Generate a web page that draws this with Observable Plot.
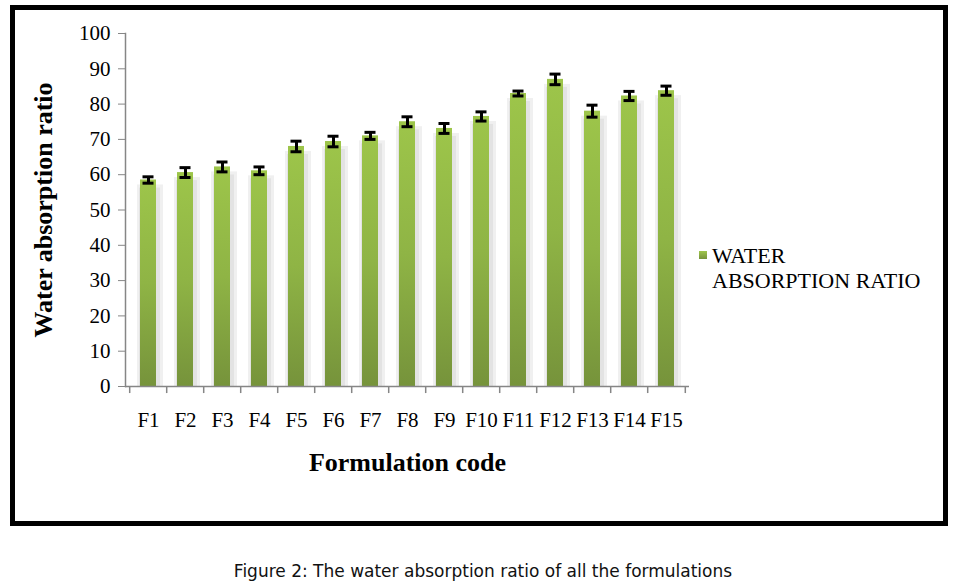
<!DOCTYPE html>
<html>
<head>
<meta charset="utf-8">
<script src="https://cdn.jsdelivr.net/npm/d3@7"></script>
<script src="https://cdn.jsdelivr.net/npm/@observablehq/plot@0.6"></script>
<style>
  html, body { margin: 0; padding: 0; background: #fff; }
  #wrap { position: relative; width: 966px; height: 588px; overflow: hidden; }
  #box { position: absolute; left: 10px; top: 5px; width: 938px; height: 521px; box-sizing: border-box; border: 5px solid #000; pointer-events: none; z-index: 2; }
  #chart { position: absolute; left: 0; top: 0; z-index: 1; }
  #legend { position: absolute; left: 699px; top: 243px; font-family: 'Liberation Serif', 'Times New Roman', serif; font-size: 22px; line-height: 25px; color: #000; z-index: 3; }
  #legend .sw { position: absolute; left: 0; top: 8px; width: 8px; height: 8px; background: linear-gradient(#9fc64c, #77933c); }
  #legend .tx { margin-left: 13px; white-space: nowrap; }
  #caption { position: absolute; left: 0; width: 966px; top: 561px; text-align: center; font-family: 'DejaVu Sans', sans-serif; font-size: 17px; color: #111; }
</style>
</head>
<body>
<div id="wrap">
  <div id="chart"></div>
  <div id="box"></div>
  <div id="legend"><div class="sw"></div><div class="tx">WATER<br>ABSORPTION RATIO</div></div>
  <div id="caption">Figure 2: The water absorption ratio of all the formulations</div>
</div>
<script>
const categories = ["F1","F2","F3","F4","F5","F6","F7","F8","F9","F10","F11","F12","F13","F14","F15"];
const values = [58.5, 60.6, 62.2, 61.1, 68.0, 69.4, 71.0, 75.0, 73.1, 76.5, 83.0, 87.0, 78.0, 82.3, 83.8];
const errors = [0.9, 1.4, 1.4, 1.1, 1.5, 1.5, 1.0, 1.4, 1.4, 1.3, 0.7, 1.5, 1.7, 1.3, 1.3];
const yTicks = [0, 10, 20, 30, 40, 50, 60, 70, 80, 90, 100];
const seriesName = "WATER ABSORPTION RATIO";
const yTitle = "Water absorption ratio";
const xTitle = "Formulation code";

const data = categories.map((c, i) => ({code: c, value: values[i], err: errors[i]}));

const step = (689 - 125) / categories.length;
const axisGray = "#868686";

const plot = Plot.plot({
  width: 966,
  height: 530,
  marginLeft: 125,
  marginRight: 966 - 689,
  marginTop: 33,
  marginBottom: 530 - 386,
  style: {fontFamily: "'Liberation Serif', 'Times New Roman', serif", fontSize: "21px", background: "transparent", color: "#000"},
  x: {domain: categories, paddingInner: 0.56, paddingOuter: 0.28},
  y: {domain: [0, 100]},
  marks: [
    Plot.barY(data, {x: "code", y: "value", fill: "#f0f0f0", insetTop: 5, insetLeft: -3, insetRight: -7}),
    Plot.barY(data, {x: "code", y: "value", fill: "#e3e3e3", insetTop: 8, insetLeft: -1, insetRight: -4}),
    Plot.barY(data, {x: "code", y: "value", fill: "url(#barGrad)"}),
    Plot.ruleY([0], {stroke: axisGray, strokeWidth: 1.5}),
    Plot.frame({anchor: "left", stroke: axisGray, strokeWidth: 1.5}),
    Plot.ruleX(categories, {x: d => d, y1: 0, y2: -2, dx: -step / 2, stroke: axisGray, strokeWidth: 1.5}),
    Plot.ruleX(categories.slice(-1), {x: d => d, y1: 0, y2: -2, dx: step / 2, stroke: axisGray, strokeWidth: 1.5}),
    Plot.ruleX(data, {x: "code", y1: d => d.value - d.err, y2: d => d.value + d.err, stroke: "#000", strokeWidth: 3}),
    Plot.tickY(data, {x: "code", y: d => d.value + d.err, stroke: "#000", strokeWidth: 3, insetLeft: 2.5, insetRight: 2.5}),
    Plot.tickY(data, {x: "code", y: d => d.value - d.err, stroke: "#000", strokeWidth: 3, insetLeft: 2.5, insetRight: 2.5}),
    Plot.axisY({ticks: yTicks, tickSize: 7, tickPadding: 8, stroke: axisGray, fill: "#000", fontSize: 21, label: null, tickFormat: d => String(d)}),
    Plot.axisX({tickSize: 0, tickPadding: 26, fontSize: 21, fill: "#000", label: null}),
    Plot.text([xTitle], {frameAnchor: "bottom", dy: 84, text: d => d, fontSize: 26, fontWeight: "bold", fill: "#000"}),
    Plot.text([yTitle], {frameAnchor: "left", dx: -82, rotate: -90, textAnchor: "middle", text: d => d, fontSize: 26, fontWeight: "bold", fill: "#000"})
  ]
});

d3.select(plot).insert("defs", ":first-child").html(
  '<linearGradient id="barGrad" x1="0" y1="0" x2="0" y2="1">' +
  '<stop offset="0" stop-color="#9dc54a"/>' +
  '<stop offset="0.5" stop-color="#8fb445"/>' +
  '<stop offset="1" stop-color="#76933b"/>' +
  '</linearGradient>'
);

document.getElementById("chart").appendChild(plot);
</script>
</body>
</html>
